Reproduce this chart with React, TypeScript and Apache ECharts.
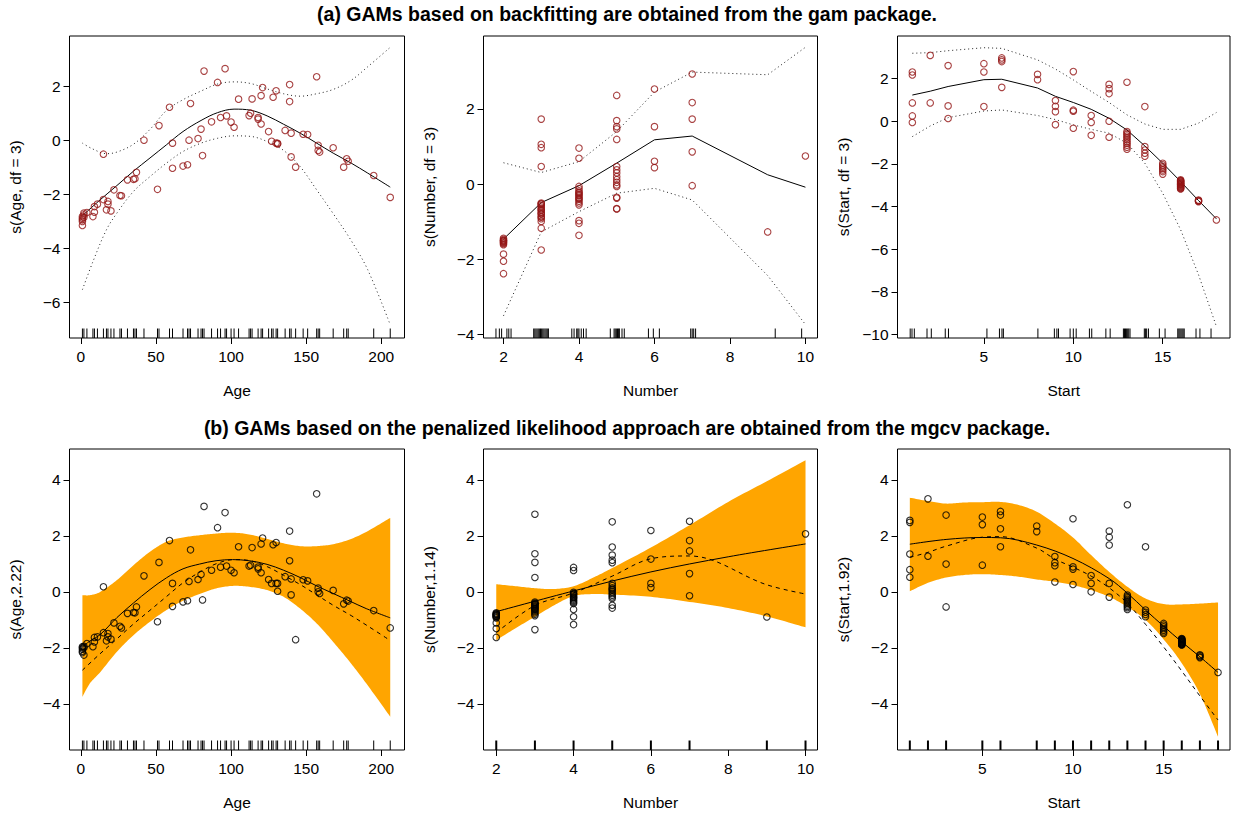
import React, { useEffect, useRef } from "react";
import * as echarts from "echarts";

// ---------- (a) gam package: partial residuals, fits and ±2se bands ----------
const gamAgePoints: number[][] = [
  [1, -2.89], [1, -3.01], [1, -3.16], [1, -2.83], [1, -2.95], [2, -2.77], [2, -2.7], [2, -2.86],
  [4, -2.68], [8, -2.83], [9, -2.46], [9, -2.67], [11, -2.37], [15, -0.52], [15, -2.2], [17, -2.58],
  [18, -2.27], [18, -2.37], [20, -2.62], [22, -1.84], [26, -2.05], [27, -2.06], [31, -1.47], [35, -1.45],
  [36, -1.43], [37, -1.19], [42, 0.0], [51, -1.82], [52, 0.54], [59, 1.22], [61, -0.11], [61, -1.04],
  [68, -0.96], [71, -0.91], [72, 0.0], [73, 1.36], [78, 0.06], [80, 0.41], [81, -0.57], [82, 2.56],
  [87, 0.68], [91, 2.14], [93, 0.84], [96, 2.65], [97, 0.9], [100, 0.67], [102, 0.48], [105, 1.52],
  [112, 0.91], [113, 1.0], [114, 1.53], [118, 0.84], [118, 0.78], [120, 1.65], [120, 0.6], [121, 1.95],
  [125, 0.32], [127, -0.04], [128, 1.59], [130, 1.83], [130, -0.11], [131, -0.14], [131, -0.12], [136, 0.36],
  [139, 2.06], [139, 1.43], [140, 0.26], [140, -0.62], [143, -1.0], [148, 0.22], [151, 0.21], [157, 2.35],
  [158, -0.19], [158, -0.38], [159, -0.44], [168, -0.28], [175, -1.0], [177, -0.69], [178, -0.78],
  [195, -1.31], [206, -2.12],
];
const gamAgeFit: number[][] = [
  [1, -2.8], [12, -2.25], [24, -1.68], [35, -1.15], [46, -0.66], [57, -0.17], [68, 0.32], [80, 0.73],
  [91, 1.02], [102, 1.15], [113, 1.11], [124, 0.9], [135, 0.59], [146, 0.26], [157, -0.11], [168, -0.48],
  [180, -0.85], [191, -1.22], [206, -1.74],
];
const gamAgeUpper: number[][] = [
  [1, -0.11], [8, -0.33], [17, -0.5], [24, -0.44], [35, -0.15], [46, 0.4], [57, 1.1], [68, 1.5],
  [80, 1.82], [91, 2.08], [102, 2.16], [113, 2.1], [124, 1.9], [135, 1.72], [146, 1.63], [157, 1.72],
  [168, 1.88], [180, 2.22], [191, 2.72], [206, 3.44],
];
const gamAgeLower: number[][] = [
  [1, -5.54], [8, -4.5], [17, -3.32], [24, -2.7], [35, -1.9], [46, -1.35], [57, -0.85], [68, -0.42],
  [80, -0.11], [91, 0.07], [102, 0.16], [113, 0.14], [124, -0.05], [135, -0.38], [146, -0.98],
  [157, -1.84], [168, -2.72], [180, -3.72], [191, -4.8], [206, -6.84],
];

const gamNumberPoints: number[][] = [
  [2, -1.44], [2, -1.47], [2, -1.5], [2, -1.5], [2, -1.52], [2, -1.54], [2, -1.56], [2, -1.58], [2, -1.61],
  [2, -1.86], [2, -2.05], [2, -2.38],
  [3, 1.73], [3, 1.06], [3, 0.97], [3, 0.47], [3, -0.5], [3, -0.53], [3, -0.57], [3, -0.61], [3, -0.65],
  [3, -0.7], [3, -0.75], [3, -0.8], [3, -0.86], [3, -0.92], [3, -0.99], [3, -0.52], [3, -0.68], [3, -0.78],
  [3, -0.88], [3, -1.17], [3, -1.75],
  [4, 0.96], [4, 0.69], [4, -0.06], [4, -0.12], [4, -0.18], [4, -0.24], [4, -0.3], [4, -0.35], [4, -0.4],
  [4, -0.45], [4, -0.5], [4, -0.55], [4, -0.22], [4, -0.38], [4, -0.97], [4, -1.04], [4, -1.36], [4, -0.28],
  [5, 2.36], [5, 1.69], [5, 1.53], [5, 1.47], [5, 1.19], [5, 0.47], [5, 0.38], [5, 0.3], [5, 0.2], [5, 0.12],
  [5, 0.05], [5, -0.02], [5, -0.06], [5, -0.35], [5, -0.37], [5, -0.65], [5, -0.66],
  [6, 2.53], [6, 1.53], [6, 0.61], [6, 0.44],
  [7, 2.93], [7, 2.17], [7, 1.73], [7, 0.86], [7, -0.04],
  [9, -1.27], [10, 0.75],
];
const gamNumberFit: number[][] = [
  [2, -1.46], [3, -0.49], [4, -0.04], [5, 0.56], [6, 1.18], [7, 1.28], [9, 0.25], [10, -0.08],
];
const gamNumberUpper: number[][] = [
  [2, 0.57], [3, 0.31], [4, 0.6], [5, 1.4], [6, 2.45], [7, 2.98], [9, 2.91], [10, 3.64],
];
const gamNumberLower: number[][] = [
  [2, -3.5], [3, -1.27], [4, -0.73], [5, -0.24], [6, -0.11], [7, -0.42], [9, -2.43], [10, -3.73],
];

const gamStartPoints: number[][] = [
  [1, 2.31], [1, 2.17], [1, 0.86], [1, 0.25], [1, -0.06],
  [2, 3.09], [2, 0.86],
  [3, 2.61], [3, 0.72], [3, 0.13],
  [5, 2.7], [5, 2.31], [5, 0.69],
  [6, 2.97], [6, 2.88], [6, 2.8], [6, 1.59],
  [8, 2.2], [8, 1.95],
  [9, 0.97], [9, 0.7], [9, 0.45], [9, -0.16],
  [10, 2.33], [10, 0.52], [10, 0.47], [10, -0.33],
  [11, 0.27], [11, -0.06], [11, -0.66],
  [12, 1.73], [12, 1.53], [12, 1.3], [12, 0.0], [12, -0.75],
  [13, 1.83], [13, -0.48], [13, -0.55], [13, -0.62], [13, -0.7], [13, -0.78], [13, -0.86], [13, -0.95],
  [13, -1.03], [13, -1.12], [13, -1.22], [13, -1.31],
  [14, 0.69], [14, -1.19], [14, -1.35], [14, -1.5], [14, -1.64],
  [15, -1.97], [15, -2.05], [15, -2.13], [15, -2.2], [15, -2.28], [15, -2.36], [15, -2.48],
  [16, -2.75], [16, -2.78], [16, -2.8], [16, -2.82], [16, -2.85], [16, -2.88], [16, -2.91], [16, -2.94],
  [16, -2.95], [16, -2.97], [16, -3.0], [16, -3.03], [16, -3.06], [16, -3.09], [16, -3.12], [16, -3.15], [16, -3.18],
  [17, -3.7], [17, -3.72], [17, -3.75], [17, -3.77],
  [18, -4.63],
];
const gamStartFit: number[][] = [
  [1, 1.23], [2, 1.41], [3, 1.63], [5, 1.95], [6, 1.97], [8, 1.56], [9, 1.17], [10, 0.88], [11, 0.56],
  [12, 0.14], [13, -0.41], [14, -1.16], [15, -1.97], [16, -2.83], [17, -3.72], [18, -4.58],
];
const gamStartUpper: number[][] = [
  [1, 3.19], [2, 3.22], [3, 3.31], [5, 3.45], [6, 3.42], [8, 2.88], [9, 2.45], [10, 1.94], [11, 1.4],
  [12, 0.88], [13, 0.3], [14, -0.13], [15, -0.38], [16, -0.38], [17, -0.09], [18, 0.41],
];
const gamStartLower: number[][] = [
  [1, -0.72], [2, -0.22], [3, 0.17], [5, 0.48], [6, 0.53], [8, 0.27], [9, 0.08], [10, -0.17], [11, -0.38],
  [12, -0.56], [13, -1.03], [14, -1.97], [15, -3.38], [16, -5.09], [17, -7.2], [18, -9.63],
];

// rug marks (jittered in the gam plots)
const ageRug = [
  1, 2, 4, 8, 9, 11, 15, 17, 18, 20, 22, 26, 27, 31, 35, 36, 37, 42, 51, 52, 59, 61, 68, 71, 72, 73, 78, 80,
  81, 82, 87, 91, 93, 96, 97, 100, 102, 105, 112, 113, 114, 118, 120, 121, 125, 127, 128, 130, 131, 136,
  139, 140, 143, 148, 151, 157, 158, 159, 168, 175, 177, 178, 195, 206,
];
const numberRugJitter = [
  1.8, 1.89, 1.95, 2.09, 2.14, 2.2, 2.8, 2.83, 2.86, 2.89, 2.92, 2.95, 2.98, 3.01, 3.04, 3.07, 3.1, 3.13,
  3.16, 3.19, 3.81, 3.87, 3.94, 3.97, 4.0, 4.06, 4.12, 4.19, 4.83, 4.93, 4.96, 4.99, 5.02, 5.05, 5.07,
  5.14, 5.2, 5.84, 5.97, 6.13, 6.96, 7.0, 7.04, 7.09, 9.2, 9.9,
];
const startRugJitter = [
  0.88, 0.98, 1.11, 1.82, 2.06, 2.84, 3.02, 5.17, 5.87, 6.01, 6.09, 8.02, 8.94, 9.08, 9.17, 9.82, 10.0,
  10.16, 10.9, 11.03, 11.82, 12.06, 12.8, 12.86, 12.92, 12.98, 13.04, 13.1, 13.17, 13.97, 14.03, 14.1,
  14.2, 14.81, 15.13, 15.84, 15.9, 15.96, 16.02, 16.08, 16.14, 16.2, 16.86, 17.08, 17.7,
];

// ---------- (b) mgcv package: partial residuals, fits and confidence bands ----------
const mgcvAgePoints: number[][] = [
  [1, -1.96], [1, -2.05], [1, -2.12], [1, -2.17], [1, -2.0], [2, -2.26], [2, -1.95], [2, -2.0],
  [4, -1.85], [8, -1.96], [9, -1.63], [9, -1.79], [11, -1.61], [15, 0.18], [15, -1.46], [17, -1.75],
  [18, -1.49], [18, -1.61], [20, -1.69], [22, -1.11], [26, -1.23], [27, -1.29], [31, -0.77], [35, -0.74],
  [36, -0.75], [37, -0.54], [42, 0.57], [51, -1.07], [52, 1.05], [59, 1.83], [61, 0.3], [61, -0.52],
  [68, -0.36], [71, -0.32], [72, 0.37], [73, 1.5], [78, 0.44], [80, 0.62], [81, -0.29], [82, 3.05],
  [87, 0.77], [91, 2.29], [93, 0.88], [96, 2.83], [97, 0.92], [100, 0.77], [102, 0.68], [105, 1.61],
  [112, 0.92], [113, 0.95], [114, 1.58], [118, 0.88], [118, 0.82], [120, 1.71], [120, 0.68], [121, 1.92],
  [125, 0.44], [127, 0.3], [128, 1.68], [130, 1.76], [130, 0.3], [131, 0.3], [131, 0.02], [136, 0.54],
  [139, 2.17], [139, 1.11], [140, 0.46], [140, -0.11], [143, -1.71], [148, 0.43], [151, 0.39], [157, 3.5],
  [158, 0.13], [158, 0.0], [159, -0.06], [168, 0.05], [175, -0.43], [177, -0.3], [178, -0.33],
  [195, -0.67], [206, -1.29],
];
const mgcvAgeX = [1, 6, 13, 24, 35, 46, 57, 68, 79, 90, 101, 112, 124, 135, 146, 157, 168, 179, 190, 206];
const mgcvAgeFit = [-1.96, -1.76, -1.52, -0.92, -0.4, 0.08, 0.5, 0.82, 0.99, 1.11, 1.15, 1.11, 0.98, 0.77, 0.51, 0.21, -0.06, -0.33, -0.6, -0.93];
const mgcvAgeUpper = [-0.12, -0.12, 0.0, 0.42, 0.95, 1.43, 1.79, 1.94, 2.02, 2.08, 2.11, 2.05, 1.89, 1.73, 1.63, 1.63, 1.7, 1.87, 2.14, 2.64];
const mgcvAgeLower = [-3.75, -3.27, -2.86, -2.14, -1.55, -1.07, -0.65, -0.32, -0.08, 0.12, 0.21, 0.18, 0.06, -0.18, -0.6, -1.13, -1.79, -2.5, -3.27, -4.46];

const mgcvNumberPoints: number[][] = [
  [2, -0.75], [2, -0.78], [2, -0.81], [2, -0.84], [2, -0.87], [2, -0.9], [2, -0.93], [2, -0.8], [2, -0.86],
  [2, -1.11], [2, -1.31], [2, -1.63],
  [3, 2.77], [3, 1.36], [3, 1.05], [3, 0.51], [3, -0.37], [3, -0.4], [3, -0.43], [3, -0.46], [3, -0.49],
  [3, -0.52], [3, -0.55], [3, -0.58], [3, -0.62], [3, -0.66], [3, -0.7], [3, -0.75], [3, -0.8], [3, -0.85],
  [3, -0.44], [3, -0.6], [3, -1.35],
  [4, 0.87], [4, 0.76], [4, -0.02], [4, -0.06], [4, -0.1], [4, -0.14], [4, -0.18], [4, -0.22], [4, -0.26],
  [4, -0.3], [4, -0.34], [4, -0.38], [4, -0.42], [4, -0.08], [4, -0.63], [4, -0.89], [4, -1.17], [4, -0.2],
  [5, 2.5], [5, 1.6], [5, 1.31], [5, 1.13], [5, 1.04], [5, 0.3], [5, 0.22], [5, 0.14], [5, 0.06], [5, 0.0],
  [5, -0.06], [5, -0.12], [5, -0.18], [5, -0.24], [5, 0.1], [5, -0.48], [5, -0.58],
  [6, 2.19], [6, 1.17], [6, 0.3], [6, 0.15],
  [7, 2.52], [7, 1.83], [7, 1.46], [7, 0.65], [7, -0.14],
  [9, -0.9], [10, 2.07],
];
const mgcvNumberFit: number[][] = [[2, -0.71], [4, 0.03], [6, 0.71], [8, 1.25], [10, 1.71]];
const mgcvNumberX = [2, 2.5, 3, 3.5, 4, 4.5, 5, 6, 7, 8, 9, 10];
const mgcvNumberUpper = [0.27, 0.2, 0.13, 0.1, 0.2, 0.5, 0.85, 1.58, 2.38, 3.21, 3.95, 4.7];
const mgcvNumberLower = [-1.73, -1.3, -0.89, -0.48, -0.15, -0.08, -0.1, -0.18, -0.36, -0.58, -0.88, -1.27];

const mgcvStartPoints: number[][] = [
  [1, 2.55], [1, 2.48], [1, 1.35], [1, 0.79], [1, 0.52],
  [2, 3.32], [2, 1.27],
  [3, 2.74], [3, 0.99], [3, -0.54],
  [5, 2.67], [5, 2.4], [5, 0.95],
  [6, 2.87], [6, 2.74], [6, 2.25], [6, 1.61],
  [8, 2.35], [8, 2.15],
  [9, 1.26], [9, 1.04], [9, 0.93], [9, 0.35],
  [10, 2.61], [10, 0.89], [10, 0.81], [10, 0.26],
  [11, 0.58], [11, 0.3], [11, 0.0],
  [12, 2.17], [12, 1.95], [12, 1.67], [12, 0.3], [12, -0.19],
  [13, 3.11], [13, -0.12], [13, -0.17], [13, -0.22], [13, -0.27], [13, -0.32], [13, -0.37], [13, -0.42],
  [13, -0.47], [13, -0.52], [13, -0.57], [13, -0.63],
  [14, 1.61], [14, -0.65], [14, -0.73], [14, -0.81], [14, -0.89],
  [15, -1.13], [15, -1.19], [15, -1.25], [15, -1.31], [15, -1.37], [15, -1.43], [15, -1.49],
  [16, -1.67], [16, -1.69], [16, -1.7], [16, -1.72], [16, -1.73], [16, -1.75], [16, -1.76], [16, -1.78],
  [16, -1.79], [16, -1.81], [16, -1.82], [16, -1.84], [16, -1.85], [16, -1.87], [16, -1.88], [16, -1.89], [16, -1.9],
  [17, -2.25], [17, -2.28], [17, -2.32], [17, -2.35],
  [18, -2.88],
];
const mgcvStartFit: number[][] = [
  [1, 1.7], [3, 1.87], [5, 1.94], [6, 1.93], [8, 1.67], [10, 1.19], [12, 0.47], [13, -0.05], [14, -0.65],
  [15, -1.23], [16, -1.79], [17, -2.32], [18, -2.88],
];
const mgcvStartX = [1, 2, 3, 4, 5, 6, 7, 8, 9, 10, 11, 12, 13, 14, 15, 16, 17, 18];
const mgcvStartUpper = [3.36, 3.24, 3.15, 3.19, 3.2, 3.21, 3.1, 2.86, 2.44, 1.94, 1.31, 0.71, 0.18, -0.24, -0.44, -0.45, -0.42, -0.38];
const mgcvStartLower = [0.02, 0.32, 0.51, 0.6, 0.63, 0.6, 0.54, 0.44, 0.36, 0.24, 0.06, -0.18, -0.54, -1.0, -1.7, -2.55, -3.65, -5.18];

const numberRug = [2, 3, 4, 5, 6, 7, 9, 10];
const startRug = [1, 2, 3, 5, 6, 8, 9, 10, 11, 12, 13, 14, 15, 16, 17, 18];

// tick positions
const ageTicks = [0, 50, 100, 150, 200];
const numberTicks = [2, 4, 6, 8, 10];
const startTicks = [5, 10, 15];

const TITLE_A = "(a) GAMs based on backfitting are obtained from the gam package.";
const TITLE_B = "(b) GAMs based on the penalized likelihood approach are obtained from the mgcv package.";

const FONT = "'Liberation Sans', Arial, Helvetica, sans-serif";
const FS = 15.5;
const TITLE_FS = 19.5;
const RED = "#931515";
const ORANGE = "#FFA500";

type Panel = {
  left: number; top: number; width: number; height: number;
  xMin: number; xMax: number; yMin: number; yMax: number;
  xTicks: number[]; yTicks: number[]; xName: string; yName: string;
};

const panels: Panel[] = [
  { left: 69.5, top: 36, width: 335, height: 302, xMin: -7.6, xMax: 215.5, yMin: -7.33, yMax: 3.86, xTicks: ageTicks, yTicks: [-6, -4, -2, 0, 2], xName: "Age", yName: "s(Age, df = 3)" },
  { left: 483.5, top: 36, width: 334, height: 302, xMin: 1.47, xMax: 10.32, yMin: -4.09, yMax: 3.94, xTicks: numberTicks, yTicks: [-4, -2, 0, 2], xName: "Number", yName: "s(Number, df = 3)" },
  { left: 897.5, top: 36, width: 332.5, height: 302, xMin: 0.17, xMax: 18.76, yMin: -10.17, yMax: 4.0, xTicks: startTicks, yTicks: [-10, -8, -6, -4, -2, 0, 2], xName: "Start", yName: "s(Start, df = 3)" },
  { left: 69.5, top: 449, width: 335, height: 301, xMin: -7.6, xMax: 215.5, yMin: -5.65, yMax: 5.1, xTicks: ageTicks, yTicks: [-4, -2, 0, 2, 4], xName: "Age", yName: "s(Age,2.22)" },
  { left: 483.5, top: 449, width: 334, height: 301, xMin: 1.67, xMax: 10.31, yMin: -5.65, yMax: 5.1, xTicks: numberTicks, yTicks: [-4, -2, 0, 2, 4], xName: "Number", yName: "s(Number,1.14)" },
  { left: 897.5, top: 449, width: 332.5, height: 301, xMin: 0.32, xMax: 18.66, yMin: -5.65, yMax: 5.1, xTicks: startTicks, yTicks: [-4, -2, 0, 2, 4], xName: "Start", yName: "s(Start,1.92)" },
];

const fmt = (v: number) => String(v).replace("-", "\u2212");
const textStyle = { fontSize: FS, color: "#000", fontFamily: FONT };

function lineSeries(i: number, data: number[][], style: any, smooth: number | boolean, z = 3) {
  return {
    type: "line", xAxisIndex: i, yAxisIndex: i, data, symbol: "none", smooth,
    silent: true, z, lineStyle: { color: "#000", width: 1, ...style },
  };
}

// Catmull-Rom curve through screen-space points, used for the band outlines
function catmullRom(p: number[][], steps = 12): number[][] {
  const out: number[][] = [];
  for (let k = 0; k < p.length - 1; k++) {
    const p0 = p[Math.max(k - 1, 0)], p1 = p[k], p2 = p[k + 1], p3 = p[Math.min(k + 2, p.length - 1)];
    for (let s = 0; s < steps; s++) {
      const t = s / steps, t2 = t * t, t3 = t2 * t;
      out.push([0, 1].map((d) =>
        0.5 * (2 * p1[d] + (-p0[d] + p2[d]) * t + (2 * p0[d] - 5 * p1[d] + 4 * p2[d] - p3[d]) * t2 +
          (-p0[d] + 3 * p1[d] - 3 * p2[d] + p3[d]) * t3)));
    }
  }
  out.push(p[p.length - 1]);
  return out;
}

function bandSeries(i: number, xs: number[], lower: number[], upper: number[]) {
  return {
    type: "custom", xAxisIndex: i, yAxisIndex: i, silent: true, z: 1,
    data: xs.map((x, k) => [x, lower[k], upper[k]]),
    encode: { x: 0, y: [1, 2] },
    renderItem: (params: any, api: any) => {
      if (params.dataIndex !== 0) return { type: "group", children: [] };
      const up = xs.map((x, k) => api.coord([x, upper[k]]));
      const lo = xs.map((x, k) => api.coord([x, lower[k]]));
      const pts = [...catmullRom(up), ...catmullRom(lo).reverse()];
      return { type: "polygon", shape: { points: pts }, style: { fill: ORANGE, stroke: "none" } };
    },
  };
}

function scatterSeries(i: number, data: number[][], color: string) {
  return {
    type: "scatter", xAxisIndex: i, yAxisIndex: i, data, symbol: "circle", symbolSize: 6.5,
    silent: true, z: 5, itemStyle: { color: "rgba(0,0,0,0)", borderColor: color, borderWidth: 1.1 },
  };
}

function rugSeries(i: number, xs: number[], width: number) {
  const yMin = panels[i].yMin;
  return {
    type: "custom", xAxisIndex: i, yAxisIndex: i, silent: true, z: 4,
    data: xs.map((x) => [x, yMin]),
    renderItem: (_p: any, api: any) => {
      const pt = api.coord([api.value(0), yMin]);
      return {
        type: "line",
        shape: { x1: pt[0], y1: pt[1], x2: pt[0], y2: pt[1] - 9.5 },
        style: { stroke: "#000", lineWidth: width },
      };
    },
  };
}

const DOT = { type: [1, 3], color: "#222" };
const DASH = { type: [4, 4] };

function buildOption() {
  const grid = panels.map((p) => ({
    left: p.left, top: p.top, width: p.width, height: p.height,
    show: true, borderColor: "#000", borderWidth: 1, backgroundColor: "transparent",
  }));
  const xAxis = panels.map((p, i) => ({
    type: "value", gridIndex: i, min: p.xMin, max: p.xMax,
    name: p.xName, nameLocation: "middle", nameGap: 44, nameTextStyle: textStyle,
    axisLine: { show: false, onZero: false },
    axisTick: { show: true, inside: false, length: 6, customValues: p.xTicks, lineStyle: { color: "#000", width: 1 } },
    axisLabel: { show: true, customValues: p.xTicks, margin: 10, formatter: fmt, ...textStyle },
    splitLine: { show: false },
  }));
  const yAxis = panels.map((p, i) => ({
    type: "value", gridIndex: i, min: p.yMin, max: p.yMax,
    name: p.yName, nameLocation: "middle", nameRotate: 90, nameGap: 46, nameTextStyle: textStyle,
    axisLine: { show: false, onZero: false },
    axisTick: { show: true, inside: false, length: 6, customValues: p.yTicks, lineStyle: { color: "#000", width: 1 } },
    axisLabel: { show: true, customValues: p.yTicks, margin: 9, formatter: fmt, ...textStyle },
    splitLine: { show: false },
  }));

  const series: any[] = [
    // (a) Age
    lineSeries(0, gamAgeFit, {}, 0.35),
    lineSeries(0, gamAgeUpper, DOT, 0.35),
    lineSeries(0, gamAgeLower, DOT, 0.35),
    scatterSeries(0, gamAgePoints, RED),
    rugSeries(0, ageRug, 1),
    // (a) Number
    lineSeries(1, gamNumberFit, {}, false),
    lineSeries(1, gamNumberUpper, DOT, false),
    lineSeries(1, gamNumberLower, DOT, false),
    scatterSeries(1, gamNumberPoints, RED),
    rugSeries(1, numberRugJitter, 1),
    // (a) Start
    lineSeries(2, gamStartFit, {}, false),
    lineSeries(2, gamStartUpper, DOT, false),
    lineSeries(2, gamStartLower, DOT, false),
    scatterSeries(2, gamStartPoints, RED),
    rugSeries(2, startRugJitter, 1),
    // (b) Age
    bandSeries(3, mgcvAgeX, mgcvAgeLower, mgcvAgeUpper),
    lineSeries(3, mgcvAgeX.map((x, k) => [x, mgcvAgeFit[k]]), {}, 0.35),
    lineSeries(3, gamAgeFit, DASH, 0.35),
    scatterSeries(3, mgcvAgePoints, "#000"),
    rugSeries(3, ageRug, 1),
    // (b) Number
    bandSeries(4, mgcvNumberX, mgcvNumberLower, mgcvNumberUpper),
    lineSeries(4, mgcvNumberFit, {}, 0.35),
    lineSeries(4, gamNumberFit, DASH, 0.35),
    scatterSeries(4, mgcvNumberPoints, "#000"),
    rugSeries(4, numberRug, 2),
    // (b) Start
    bandSeries(5, mgcvStartX, mgcvStartLower, mgcvStartUpper),
    lineSeries(5, mgcvStartFit, {}, 0.35),
    lineSeries(5, gamStartFit, DASH, 0.35),
    scatterSeries(5, mgcvStartPoints, "#000"),
    rugSeries(5, startRug, 2),
  ];

  const titleFont = `bold ${TITLE_FS}px ${FONT}`;
  const graphic = [
    {
      type: "text", x: 627, y: 14, silent: true,
      style: { text: TITLE_A, fill: "#000", font: titleFont, textAlign: "center", textVerticalAlign: "middle" },
    },
    {
      type: "text", x: 627, y: 428, silent: true,
      style: { text: TITLE_B, fill: "#000", font: titleFont, textAlign: "center", textVerticalAlign: "middle" },
    },
  ];

  return { animation: false, backgroundColor: "#fff", grid, xAxis, yAxis, series, graphic };
}

export default function App() {
  const ref = useRef<HTMLDivElement>(null);
  useEffect(() => {
    if (!ref.current) return;
    const chart = echarts.init(ref.current, null, { renderer: "svg" });
    chart.setOption(buildOption() as any);
    return () => chart.dispose();
  }, []);
  return (
    <div
      ref={ref}
      style={{ position: "fixed", left: 0, top: 0, width: 1233, height: 816, background: "#fff" }}
    />
  );
}
